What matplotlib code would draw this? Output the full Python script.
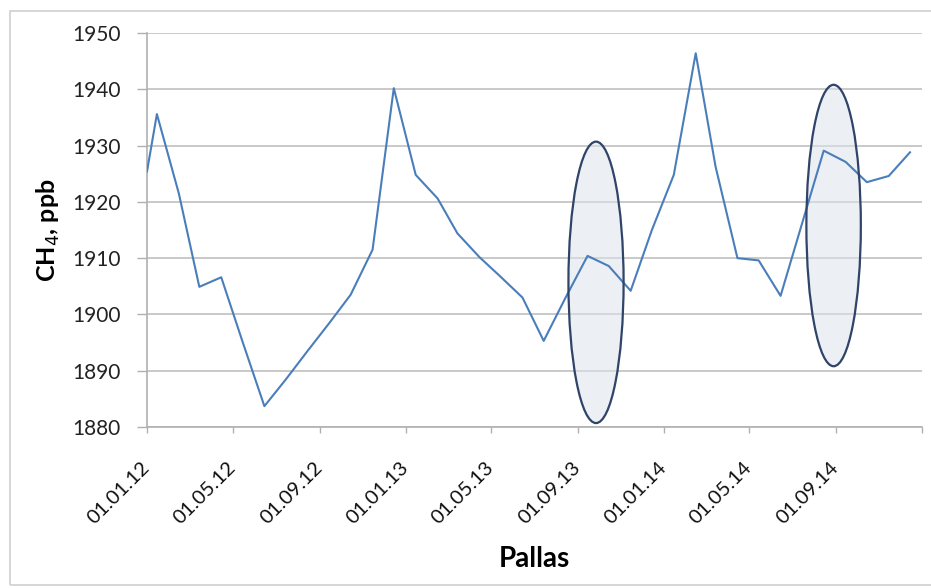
import matplotlib
matplotlib.use("Agg")
import matplotlib.pyplot as plt
import matplotlib.dates as mdates
from matplotlib.patches import Ellipse, Rectangle
from matplotlib.transforms import ScaledTranslation
import numpy as np
import pandas as pd

# Monthly CH4 mixing ratio at Pallas (ppb)
dates = ["2012-01-01"] + [f"{y}-{m:02d}-15" for y in (2012, 2013, 2014) for m in range(1, 13)]
ch4_2012 = [1925.4, 1935.6, 1921.5, 1904.9, 1906.6, 1895.2, 1883.7,
            1888.4, 1893.5, 1898.5, 1903.5, 1911.5, 1940.2]
ch4_2013 = [1924.8, 1920.6, 1914.4, 1910.2, 1906.7, 1903.0,
            1895.3, 1903.0, 1910.4, 1908.6, 1904.2, 1915.0]
ch4_2014 = [1924.8, 1946.4, 1926.3, 1910.0, 1909.6, 1903.3,
            1916.0, 1929.1, 1927.1, 1923.5, 1924.6, 1928.8]
ch4 = ch4_2012 + ch4_2013 + ch4_2014

# Highlighted periods: centre date, span in days, value range
highlight_centres = ["2013-09-27", "2014-08-29"]
highlight_days = [78, 77]
highlight_low = [1880.7, 1890.8]
highlight_high = [1930.7, 1940.8]

tick_dates = pd.date_range("2012-01-01", "2015-01-01", freq="4MS")
tick_labels = [d.strftime("%d.%m.%y") for d in tick_dates[:-1]] + [""]

font = ["Lato", "DejaVu Sans"]
plt.rcParams["font.family"] = font

fig = plt.figure(figsize=(9.31, 5.88), dpi=100)
fig.patch.set_facecolor("white")

# chart-area frame
fig.add_artist(Rectangle((10 / 931, 3 / 588), 930 / 931, 574 / 588,
                         transform=fig.transFigure, fill=False,
                         edgecolor="#d0d0d0", linewidth=1.2))

ax = fig.add_axes([147 / 931, 161 / 588, 775 / 931, 394 / 588])

x = mdates.date2num(pd.to_datetime(dates))
ax.plot(x, ch4, color="#4a7ebb", linewidth=1.5, zorder=3)

for c, w, lo, hi in zip(highlight_centres, highlight_days, highlight_low, highlight_high):
    cx = mdates.date2num(pd.Timestamp(c))
    e = Ellipse((cx, (lo + hi) / 2), w, hi - lo, facecolor="#dde3ec", alpha=0.55,
                edgecolor="none", zorder=2)
    ax.add_patch(e)
    e2 = Ellipse((cx, (lo + hi) / 2), w, hi - lo, facecolor="none",
                 edgecolor="#2f4468", linewidth=1.6, zorder=4)
    ax.add_patch(e2)

ax.set_xlim(mdates.date2num(pd.Timestamp("2012-01-01")),
            mdates.date2num(pd.Timestamp("2015-01-01")))
ax.set_ylim(1880, 1950)
ax.set_yticks(np.arange(1880, 1951, 10))
ax.set_xticks(mdates.date2num(tick_dates))
ax.set_xticklabels(tick_labels, rotation=45, ha="right", va="center",
                   rotation_mode="anchor", fontsize=14.5, color="#111111")
shift = ScaledTranslation(0.19, 0, fig.dpi_scale_trans)
for lab in ax.get_xticklabels():
    lab.set_transform(lab.get_transform() + shift)

ax.tick_params(axis="y", labelsize=15, colors="#b0b0b0", labelcolor="#222222",
               length=7.2, width=1.0, pad=12)
ax.tick_params(axis="x", colors="#b0b0b0", labelcolor="#111111",
               length=4.5, width=1.0, pad=23)

ax.grid(axis="y", color="#c0c0c0", linewidth=1.2)
ax.set_axisbelow(True)
for s in ("top", "right"):
    ax.spines[s].set_visible(False)
for s in ("left", "bottom"):
    ax.spines[s].set_color("#b0b0b0")
    ax.spines[s].set_linewidth(1.2)

ax.set_ylabel("CH$_4$, ppb", fontsize=18, fontweight="bold")
ax.yaxis.set_label_coords(-0.110, 0.5)
ax.set_xlabel("Pallas", fontsize=20, fontweight="bold")
ax.xaxis.set_label_coords(0.5, -0.303)

fig.savefig("out.png", dpi=100, facecolor="white")
